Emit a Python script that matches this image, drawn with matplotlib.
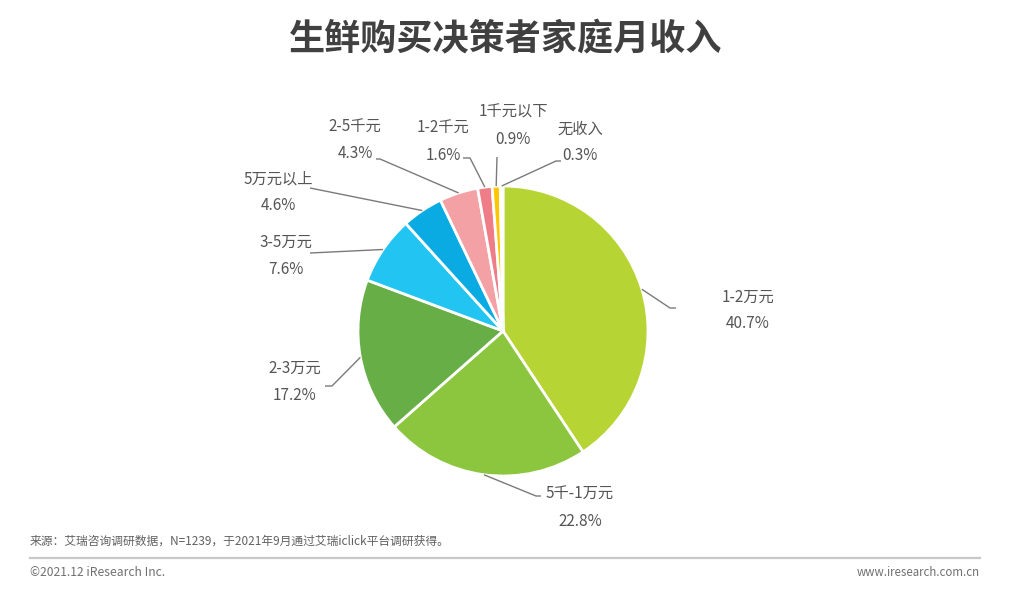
import numpy as np
import matplotlib.pyplot as plt

plt.rcParams['font.family'] = ['Noto Sans CJK SC', 'DejaVu Sans']

# data (clockwise from 12 o'clock)
labels = ['1-2万元', '5千-1万元', '2-3万元', '3-5万元', '5万元以上',
          '2-5千元', '1-2千元', '1千元以下', '无收入']
shares = [40.7, 22.8, 17.2, 7.6, 4.6, 4.3, 1.6, 0.9, 0.3]
colors = ['#b6d433', '#8cc63f', '#66ae45', '#22c5f1', '#0aabe2',
          '#f4a1a6', '#ef7d87', '#fdc600', '#f3e6a6']

W, H = 1017, 598
cx, cy, R = 503, 331, 145


def Y(py):
    # pixel row (top down) -> axis y (bottom up)
    return H - py


fig = plt.figure(figsize=(W / 100, H / 100), dpi=100)
ax = fig.add_axes([0, 0, 1, 1])

wedges, _ = ax.pie(shares, colors=colors, startangle=90, counterclock=False,
                   center=(cx, Y(cy)), radius=R, frame=True,
                   wedgeprops=dict(edgecolor='white', linewidth=2))
ax.set_xlim(0, W)
ax.set_ylim(0, H)
ax.set_aspect('equal')
ax.axis('off')

# label placement: text centre (x, y of name line) and leader elbow points
label_pos = {
    '1-2万元': (748, 297, [(670, 308), (676, 308)]),
    '5千-1万元': (580, 494, [(536, 496), (541, 496)]),
    '2-3万元': (295, 368, [(332, 386), (325, 386)]),
    '3-5万元': (286, 242, [(310, 253)]),
    '5万元以上': (278, 179, [(310, 188)]),
    '2-5千元': (355, 127, [(380, 159), (376, 159)]),
    '1-2千元': (443, 128, [(470, 158), (463, 158)]),
    '1千元以下': (513, 112, [(497, 157)]),
    '无收入': (580, 129, [(556, 161), (561, 161)]),
}

grey = '#555555'
for w, lab, val in zip(wedges, labels, shares):
    ang = np.deg2rad((w.theta1 + w.theta2) / 2)
    sx = cx + R * np.cos(ang)
    sy = Y(cy) + R * np.sin(ang)
    tx, ty, elbow = label_pos[lab]
    xs = [sx] + [p[0] for p in elbow]
    ys = [sy] + [Y(p[1]) for p in elbow]
    ax.plot(xs, ys, color='#7a7a7a', lw=1.0, solid_capstyle='butt')
    ax.text(tx, Y(ty), lab, ha='center', va='center', fontsize=11, color=grey)
    ax.text(tx, Y(ty + 27), f'{val}%', ha='center', va='center',
            fontsize=11, color=grey)

ax.text(506, Y(40), '生鲜购买决策者家庭月收入', ha='center', va='center',
        fontsize=26, fontweight='bold', color='#404040')

ax.text(30, Y(541), '来源：艾瑞咨询调研数据，N=1239，于2021年9月通过艾瑞iclick平台调研获得。',
        ha='left', va='center', fontsize=8.5, color='#606060')
ax.plot([30, 980], [Y(558), Y(558)], color='#c8c8c8', lw=1.6)
ax.text(30, Y(573), '©2021.12 iResearch Inc.', ha='left', va='center',
        fontsize=8.7, color='#707070')
ax.text(980, Y(573), 'www.iresearch.com.cn', ha='right', va='center',
        fontsize=8.3, color='#707070')

fig.savefig('out.png', dpi=100)
